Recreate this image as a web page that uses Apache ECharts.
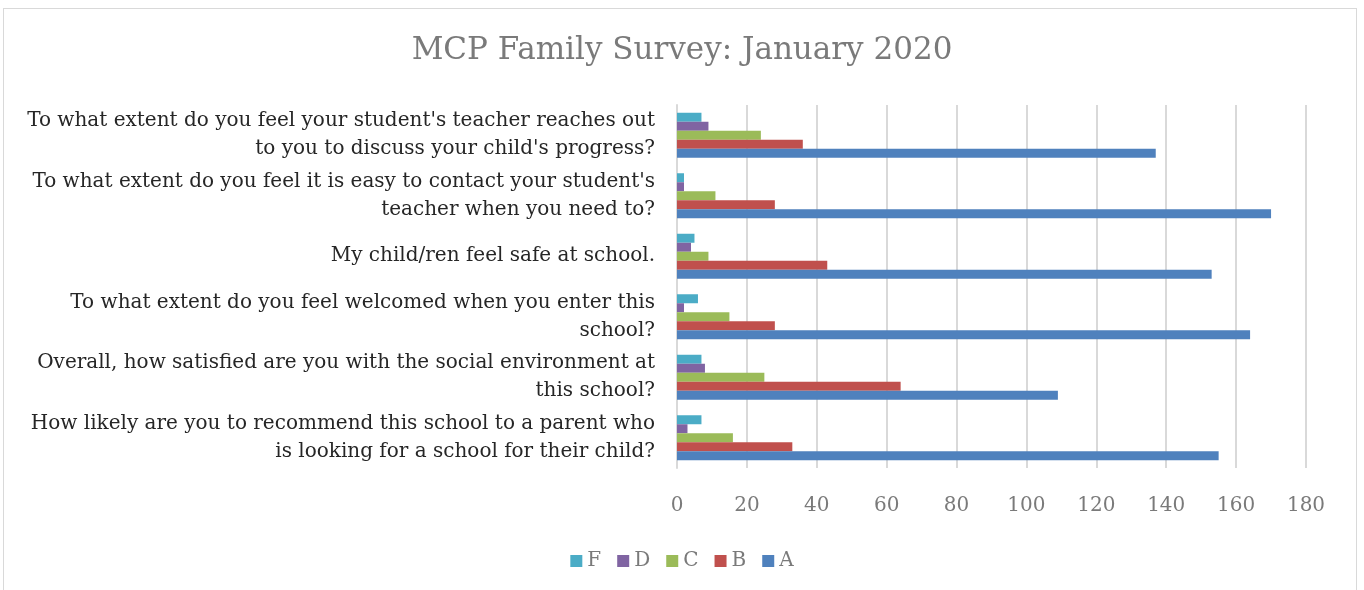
<!DOCTYPE html>
<html>
<head>
<meta charset="utf-8">
<title>MCP Family Survey: January 2020</title>
<script src="https://cdn.jsdelivr.net/npm/echarts@6/dist/echarts.min.js"></script>
<style>
  html, body { margin: 0; padding: 0; background: #fff; }
  #frame { position: absolute; left: 3px; top: 8px; width: 1354px; height: 600px; border: 1px solid #d9d9d9; box-sizing: border-box; }
  #main { position: absolute; left: 0; top: 0; width: 1364px; height: 590px; }
</style>
</head>
<body>
<div id="frame"></div>
<div id="main"></div>
<script type="text/javascript">
// questions, listed bottom to top like the Excel chart
var questions = [
  "How likely are you to recommend this school to a parent who\nis looking for a school for their child?",
  "Overall, how satisfied are you with the social environment at\nthis school?",
  "To what extent do you feel welcomed when you enter this\nschool?",
  "My child/ren feel safe at school.",
  "To what extent do you feel it is easy to contact your student's\nteacher when you need to?",
  "To what extent do you feel your student's teacher reaches out\nto you to discuss your child's progress?"
];
var gradeA = [155, 109, 164, 153, 170, 137];
var gradeB = [33, 64, 28, 43, 28, 36];
var gradeC = [16, 25, 15, 9, 11, 24];
var gradeD = [3, 8, 2, 4, 2, 9];
var gradeF = [7, 7, 6, 5, 2, 7];
var xTicks = [0, 20, 40, 60, 80, 100, 120, 140, 160, 180];

var font = "'DejaVu Serif', serif";
var grey = '#7a7a7a';

function bar(name, data, color) {
  return {
    name: name,
    type: 'bar',
    data: data,
    barWidth: 9,
    barGap: '0%',
    itemStyle: { color: color }
  };
}

var myChart = echarts.init(document.getElementById('main'));
var option = {
  animation: false,
  textStyle: { fontFamily: font },
  title: {
    text: 'MCP Family Survey: January 2020',
    left: 'center',
    top: 30,
    textStyle: { fontFamily: font, fontSize: 31, fontWeight: 'normal', color: grey }
  },
  legend: {
    data: ['F', 'D', 'C', 'B', 'A'],
    bottom: 14,
    left: 'center',
    itemWidth: 12,
    itemHeight: 12,
    itemGap: 16,
    icon: 'rect',
    textStyle: { fontFamily: font, fontSize: 20, color: grey }
  },
  grid: { left: 677, right: 58, top: 105, bottom: 122, containLabel: false },
  xAxis: {
    type: 'value',
    min: xTicks[0],
    max: xTicks[xTicks.length - 1],
    interval: 20,
    axisLine: { show: false },
    axisTick: { show: false },
    axisLabel: { fontFamily: font, fontSize: 20, color: grey, margin: 28 },
    splitLine: { lineStyle: { color: '#d9d9d9', width: 2 } }
  },
  yAxis: {
    type: 'category',
    data: questions,
    axisLine: { lineStyle: { color: '#d9d9d9', width: 2 } },
    axisTick: { show: false },
    axisLabel: { fontFamily: font, fontSize: 20, color: '#262626', margin: 22, lineHeight: 28, align: 'right' }
  },
  // Excel stacks the first series at the bottom of each group
  series: [
    bar('F', gradeF, '#4bacc6'),
    bar('D', gradeD, '#8064a2'),
    bar('C', gradeC, '#9bbb59'),
    bar('B', gradeB, '#c0504d'),
    bar('A', gradeA, '#4f81bd')
  ]
};
myChart.setOption(option);
</script>
</body>
</html>
